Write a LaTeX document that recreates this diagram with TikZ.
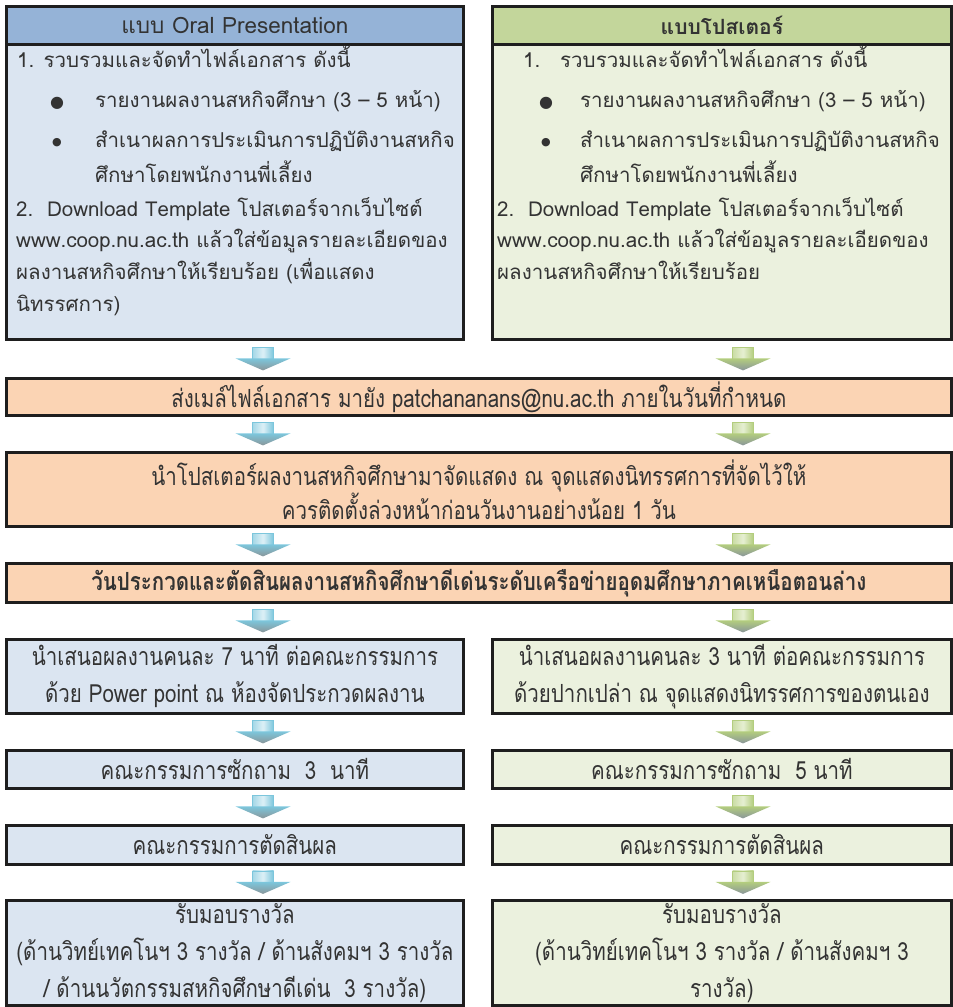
\documentclass[tikz,border=0pt]{standalone}
\usepackage{fontspec}
\setmainfont[Script=Thai]{Loma}
\newfontfamily\thaicond[Script=Thai,FakeStretch=0.82]{Loma}
\newfontfamily\symf{DejaVu Sans}
\usetikzlibrary{calc}
\definecolor{blueHead}{HTML}{95B3D7}
\definecolor{blueBody}{HTML}{DBE5F1}
\definecolor{greenHead}{HTML}{C3D69B}
\definecolor{greenBody}{HTML}{EBF1DE}
\definecolor{orangeBox}{HTML}{FBD4B4}
\definecolor{borderCol}{HTML}{1E1E1E}
\definecolor{txt}{HTML}{333333}
\definecolor{bArrow}{HTML}{7CC6DC}
\definecolor{bLight}{HTML}{DDF0F6}
\definecolor{gArrow}{HTML}{B3CD7E}
\definecolor{gLight}{HTML}{E6EFD2}
\definecolor{shadowGrey}{HTML}{8A969A}
\tikzset{
  box/.style={draw=borderCol, line width=2.8pt, inner sep=0pt, anchor=north west, text=txt},
  topfont/.style={font=\fontsize{20.5}{24}\selectfont},
  lowfont/.style={font=\thaicond\fontsize{25}{37}\selectfont},
  line/.style={anchor=west, inner sep=0pt, text=txt, text height=14pt, text depth=5pt, topfont},
  bullet/.style={anchor=center, inner sep=0pt, text=txt},
  pics/darrow/.style n args={3}{code={
    \path[left color=#1!70, right color=#1, middle color=#2] (-10.5,-11.5) rectangle (10.5,1);
    \draw[#1, line width=0.6pt] (-10.5,-11.5) rectangle (10.5,1);
    \path[top color=#1, bottom color=#3] (-27.5,-0.5) -- (27.5,-0.5) -- (0,11.5) -- cycle;
  }},
  pics/barrow/.style={darrow={bArrow}{bLight}{shadowGrey}},
  pics/garrow/.style={darrow={gArrow}{gLight}{shadowGrey}},
}
\newcommand\flowarr[3]{%
  \coordinate (tmp) at ($(#1.south)!0.5!(#2.north)$);
  \ifx#3L\pic at (tmp -| colL) {barrow};\else\pic at (tmp -| colR) {garrow};\fi
}
\begin{document}
\begin{tikzpicture}[x=1pt,y=-1pt]
\useasboundingbox (0,0) rectangle (953,1007);
\coordinate (colL) at (263,0);
\coordinate (colR) at (743,0);
% top left
\node[box, fill=blueHead, minimum width=457pt, minimum height=38pt, font=\fontsize{22.5}{26}\selectfont] (lh) at (5,5) {แบบ Oral Presentation};
\node[box, fill=blueBody, minimum width=457pt, minimum height=295pt] (lb) at (5,43) {};
% top right
\node[box, fill=greenHead, minimum width=459pt, minimum height=38pt, font=\bfseries\fontsize{21}{24}\selectfont] (rh) at (491,5) {แบบโปสเตอร์};
\node[box, fill=greenBody, minimum width=459pt, minimum height=295pt] (rb) at (491,43) {};
% left body lines
\node[line] (l1) at (17,63) {1. รวบรวมและจัดทำไฟล์เอกสาร ดังนี้};
\node[bullet, font=\symf\fontsize{16}{20}\selectfont] (lb1) at (57,103) {●};
\node[line] (l2) at (95,103) {รายงานผลงานสหกิจศึกษา (3 – 5 หน้า)};
\node[bullet, font=\symf\fontsize{11}{14}\selectfont] (lb2) at (57,143) {●};
\node[line] (l3) at (95,143) {สำเนาผลการประเมินการปฏิบัติงานสหกิจ};
\node[line] (l4) at (95,178) {ศึกษาโดยพนักงานพี่เลี้ยง};
\node[line] (l5) at (16,212) {2.\ \ Download Template โปสเตอร์จากเว็บไซต์};
\node[line] (l6) at (16,243) {www.coop.nu.ac.th แล้วใส่ข้อมูลรายละเอียดของ};
\node[line] (l7) at (16,275) {ผลงานสหกิจศึกษาให้เรียบร้อย (เพื่อแสดง};
\node[line] (l8) at (16,307) {นิทรรศการ)};
% right body lines
\node[line] (r1n) at (523,63) {1.};
\node[line] (r1) at (560,63) {รวบรวมและจัดทำไฟล์เอกสาร ดังนี้};
\node[bullet, font=\symf\fontsize{16}{20}\selectfont] (rb1) at (546,103) {●};
\node[line] (r2) at (580,103) {รายงานผลงานสหกิจศึกษา (3 – 5 หน้า)};
\node[bullet, font=\symf\fontsize{11}{14}\selectfont] (rb2) at (546,143) {●};
\node[line] (r3) at (580,143) {สำเนาผลการประเมินการปฏิบัติงานสหกิจ};
\node[line] (r4) at (580,178) {ศึกษาโดยพนักงานพี่เลี้ยง};
\node[line] (r5) at (497,212) {2.\ \ Download Template โปสเตอร์จากเว็บไซต์};
\node[line] (r6) at (497,243) {www.coop.nu.ac.th แล้วใส่ข้อมูลรายละเอียดของ};
\node[line] (r7) at (497,275) {ผลงานสหกิจศึกษาให้เรียบร้อย};
% shared boxes
\node[box, fill=orangeBox, minimum width=945pt, minimum height=37pt, lowfont] (A) at (5,377) {ส่งเมล์ไฟล์เอกสาร มายัง patchananans@nu.ac.th ภายในวันที่กำหนด};
\node[box, fill=orangeBox, minimum width=945pt, minimum height=74pt, align=center, font=\thaicond\fontsize{25}{32}\selectfont] (B) at (5,451) {นำโปสเตอร์ผลงานสหกิจศึกษามาจัดแสดง ณ จุดแสดงนิทรรศการที่จัดไว้ให้\\ควรติดตั้งล่วงหน้าก่อนวันงานอย่างน้อย 1 วัน};
\node[box, fill=orangeBox, minimum width=945pt, minimum height=39pt, font=\thaicond\bfseries\fontsize{25}{37}\selectfont] (C) at (5,562) {วันประกวดและตัดสินผลงานสหกิจศึกษาดีเด่นระดับเครือข่ายอุดมศึกษาภาคเหนือตอนล่าง};
% left column
\node[box, fill=blueBody, minimum width=457pt, minimum height=74pt, align=center, lowfont] (DL) at (5,638) {นำเสนอผลงานคนละ 7 นาที ต่อคณะกรรมการ\\ด้วย Power point ณ ห้องจัดประกวดผลงาน};
\node[box, fill=blueBody, minimum width=457pt, minimum height=38pt, lowfont] (EL) at (5,749) {คณะกรรมการซักถาม~~3~~นาที};
\node[box, fill=blueBody, minimum width=457pt, minimum height=39pt, lowfont] (FL) at (5,824) {คณะกรรมการตัดสินผล};
\node[box, fill=blueBody, minimum width=457pt, minimum height=105pt, align=center, lowfont] (GL) at (5,899) {รับมอบรางวัล\\(ด้านวิทย์เทคโนฯ 3 รางวัล / ด้านสังคมฯ 3 รางวัล\\/ ด้านนวัตกรรมสหกิจศึกษาดีเด่น~~3 รางวัล)};
% right column
\node[box, fill=greenBody, minimum width=459pt, minimum height=74pt, align=center, lowfont] (DR) at (491,638) {นำเสนอผลงานคนละ 3 นาที ต่อคณะกรรมการ\\ด้วยปากเปล่า ณ จุดแสดงนิทรรศการของตนเอง};
\node[box, fill=greenBody, minimum width=459pt, minimum height=38pt, lowfont] (ER) at (491,749) {คณะกรรมการซักถาม~~5 นาที};
\node[box, fill=greenBody, minimum width=459pt, minimum height=39pt, lowfont] (FR) at (491,824) {คณะกรรมการตัดสินผล};
\node[box, fill=greenBody, minimum width=459pt, minimum height=105pt, align=center, lowfont] (GR) at (491,899) {รับมอบรางวัล\\(ด้านวิทย์เทคโนฯ 3 รางวัล / ด้านสังคมฯ 3\\รางวัล)};
% arrows
\flowarr{lb}{A}{L}
\flowarr{rb}{A}{R}
\flowarr{A}{B}{L}
\flowarr{A}{B}{R}
\flowarr{B}{C}{L}
\flowarr{B}{C}{R}
\flowarr{C}{DL}{L}
\flowarr{C}{DR}{R}
\flowarr{DL}{EL}{L}
\flowarr{DR}{ER}{R}
\flowarr{EL}{FL}{L}
\flowarr{ER}{FR}{R}
\flowarr{FL}{GL}{L}
\flowarr{FR}{GR}{R}
\end{tikzpicture}
\end{document}
